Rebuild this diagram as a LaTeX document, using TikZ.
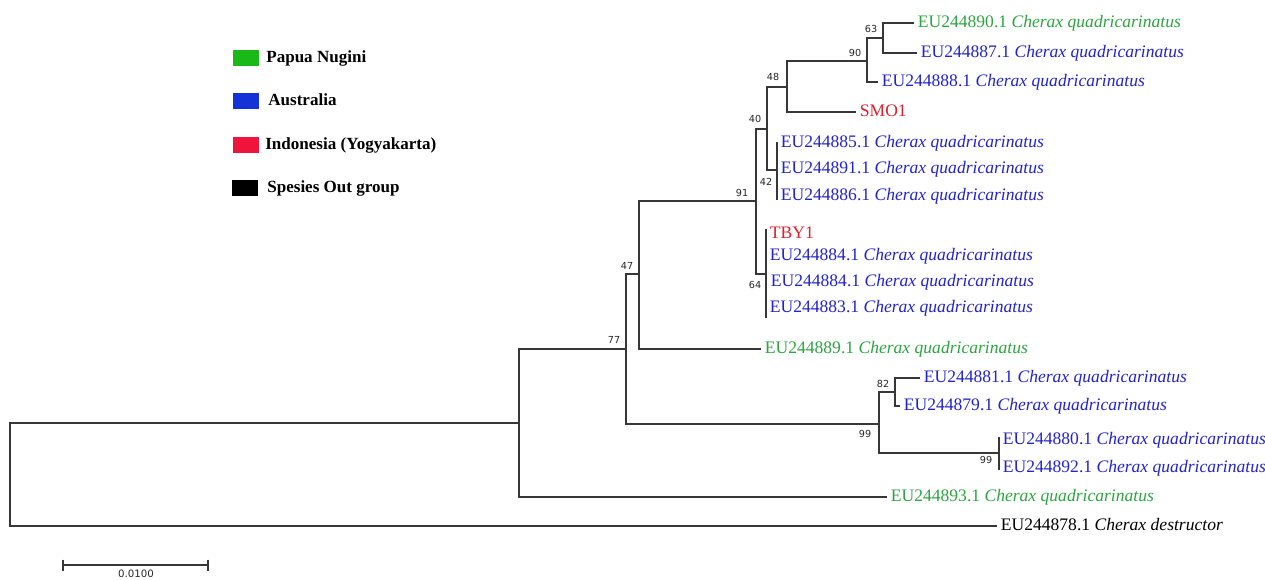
\documentclass[tikz,border=0pt]{standalone}
\usepackage{fontspec}
\setmainfont{Liberation Serif}
\newfontfamily\bsfont{DejaVu Sans}
\definecolor{tgreen}{RGB}{45,165,65}
\definecolor{tblue}{RGB}{35,35,205}
\definecolor{tred}{RGB}{225,30,45}
\definecolor{lgreen}{RGB}{25,185,25}
\definecolor{lblue}{RGB}{20,50,215}
\definecolor{lred}{RGB}{240,20,60}
\definecolor{treegray}{RGB}{55,55,55}
\tikzset{
  br/.style={draw=treegray, line width=0.7pt},
  tip/.style={anchor=west, inner xsep=2pt, inner ysep=0pt, text height=6.6pt, text depth=2pt, font=\fontsize{10}{12}\selectfont},
  bs/.style={font=\bsfont\fontsize{5.5}{6}\selectfont, text=black!85, inner sep=0pt},
  leg/.style={anchor=west, inner sep=0pt, text height=6.6pt, text depth=2pt, font=\bfseries\fontsize{9.7}{12}\selectfont},
  sq/.style={minimum width=14.5pt, minimum height=9pt, inner sep=0pt, draw=none}
}
\begin{document}
\begin{tikzpicture}[x=0.02cm, y=-0.02cm]
\useasboundingbox (0,0) rectangle (1265,579);
\fill[white] (0,0) rectangle (1265,579);

% internal nodes
\coordinate (root) at (10,475);
\coordinate (nA) at (519,423);
\coordinate (n77) at (626,349);
\coordinate (n47) at (639,274);
\coordinate (n91) at (756,201);
\coordinate (n40) at (767,129);
\coordinate (n48) at (787,87);
\coordinate (n90) at (867,61);
\coordinate (n63) at (883,38);
\coordinate (n42) at (777,170);
\coordinate (n42t) at (777,142);
\coordinate (n42b) at (777,200);
\coordinate (n64) at (766,274);
\coordinate (n64t) at (766,229);
\coordinate (n64b) at (766,318);
\coordinate (n99) at (879,424);
\coordinate (n82) at (895,392);
\coordinate (n99b) at (999,453);
\coordinate (n99bt) at (999,437);
\coordinate (n99bb) at (999,470);

% tips
\node[tip, text=tgreen] (t890) at (914,23) {EU244890.1 \textit{Cherax quadricarinatus}};
\node[tip, text=tblue] (t887) at (917,53) {EU244887.1 \textit{Cherax quadricarinatus}};
\node[tip, text=tblue] (t888) at (878,82) {EU244888.1 \textit{Cherax quadricarinatus}};
\node[tip, text=tred] (tsmo) at (856,112) {SMO1};
\node[tip, text=tblue] (t885) at (777,143) {EU244885.1 \textit{Cherax quadricarinatus}};
\node[tip, text=tblue] (t891) at (777,169) {EU244891.1 \textit{Cherax quadricarinatus}};
\node[tip, text=tblue] (t886) at (777,196) {EU244886.1 \textit{Cherax quadricarinatus}};
\node[tip, text=tred] (ttby) at (766,234) {TBY1};
\node[tip, text=tblue] (t884a) at (766,256) {EU244884.1 \textit{Cherax quadricarinatus}};
\node[tip, text=tblue] (t884b) at (767,282) {EU244884.1 \textit{Cherax quadricarinatus}};
\node[tip, text=tblue] (t883) at (766,308) {EU244883.1 \textit{Cherax quadricarinatus}};
\node[tip, text=tgreen] (t889) at (761,349) {EU244889.1 \textit{Cherax quadricarinatus}};
\node[tip, text=tblue] (t881) at (920,378) {EU244881.1 \textit{Cherax quadricarinatus}};
\node[tip, text=tblue] (t879) at (900,406) {EU244879.1 \textit{Cherax quadricarinatus}};
\node[tip, text=tblue] (t880) at (999,440) {EU244880.1 \textit{Cherax quadricarinatus}};
\node[tip, text=tblue] (t892) at (999,468) {EU244892.1 \textit{Cherax quadricarinatus}};
\node[tip, text=tgreen] (t893) at (887,497) {EU244893.1 \textit{Cherax quadricarinatus}};
\node[tip, text=black] (t878) at (997,526) {EU244878.1 \textit{Cherax destructor}};

% branches
\draw[br] (root) |- (nA);
\draw[br] (root) |- (t878.west);
\draw[br] (nA) |- (n77);
\draw[br] (nA) |- (t893.west);
\draw[br] (n77) |- (n47);
\draw[br] (n77) |- (n99);
\draw[br] (n47) |- (n91);
\draw[br] (n47) |- (t889.west);
\draw[br] (n91) |- (n40);
\draw[br] (n91) |- (n64);
\draw[br] (n40) |- (n48);
\draw[br] (n40) |- (n42);
\draw[br] (n48) |- (n90);
\draw[br] (n48) |- (tsmo.west);
\draw[br] (n90) |- (n63);
\draw[br] (n90) |- (t888.west);
\draw[br] (n63) |- (t890.west);
\draw[br] (n63) |- (t887.west);
\draw[br] (n42t) -- (n42b);
\draw[br] (n64t) -- (n64b);
\draw[br] (n99) |- (n82);
\draw[br] (n99) |- (n99b);
\draw[br] (n82) |- (t881.west);
\draw[br] (n82) |- (t879.west);
\draw[br] (n99bt) -- (n99bb);

% bootstrap values
\node[bs] (b63) at (871,29) {63};
\node[bs] (b90) at (855,53) {90};
\node[bs] (b48) at (773,77) {48};
\node[bs] (b40) at (755,119) {40};
\node[bs] (b42) at (766,182) {42};
\node[bs] (b91) at (742,193) {91};
\node[bs] (b64) at (755,285) {64};
\node[bs] (b47) at (627,266) {47};
\node[bs] (b77) at (614,340) {77};
\node[bs] (b82) at (883,384) {82};
\node[bs] (b99) at (865,434) {99};
\node[bs] (b99b) at (986,460) {99};

% legend
\node[sq, fill=lgreen] (s1) at (246,58) {};
\node[sq, fill=lblue] (s2) at (246,101) {};
\node[sq, fill=lred] (s3) at (246,145) {};
\node[sq, fill=black] (s4) at (245,188) {};
\node[leg] (l1) at (266,58) {Papua Nugini};
\node[leg] (l2) at (268,101) {Australia};
\node[leg] (l3) at (265,145) {Indonesia (Yogyakarta)};
\node[leg] (l4) at (267,188) {Spesies Out group};

% scale bar
\coordinate (sbl) at (63,565);
\coordinate (sbr) at (208,565);
\draw[br] (sbl) -- (sbr);
\draw[br] ([yshift=0.11cm]sbl) -- ([yshift=-0.11cm]sbl);
\draw[br] ([yshift=0.11cm]sbr) -- ([yshift=-0.11cm]sbr);
\node[font=\bsfont\fontsize{5.8}{7}\selectfont, anchor=north, inner sep=0pt, text=black!85] (sbt) at (136,570) {0.0100};
\end{tikzpicture}
\end{document}
